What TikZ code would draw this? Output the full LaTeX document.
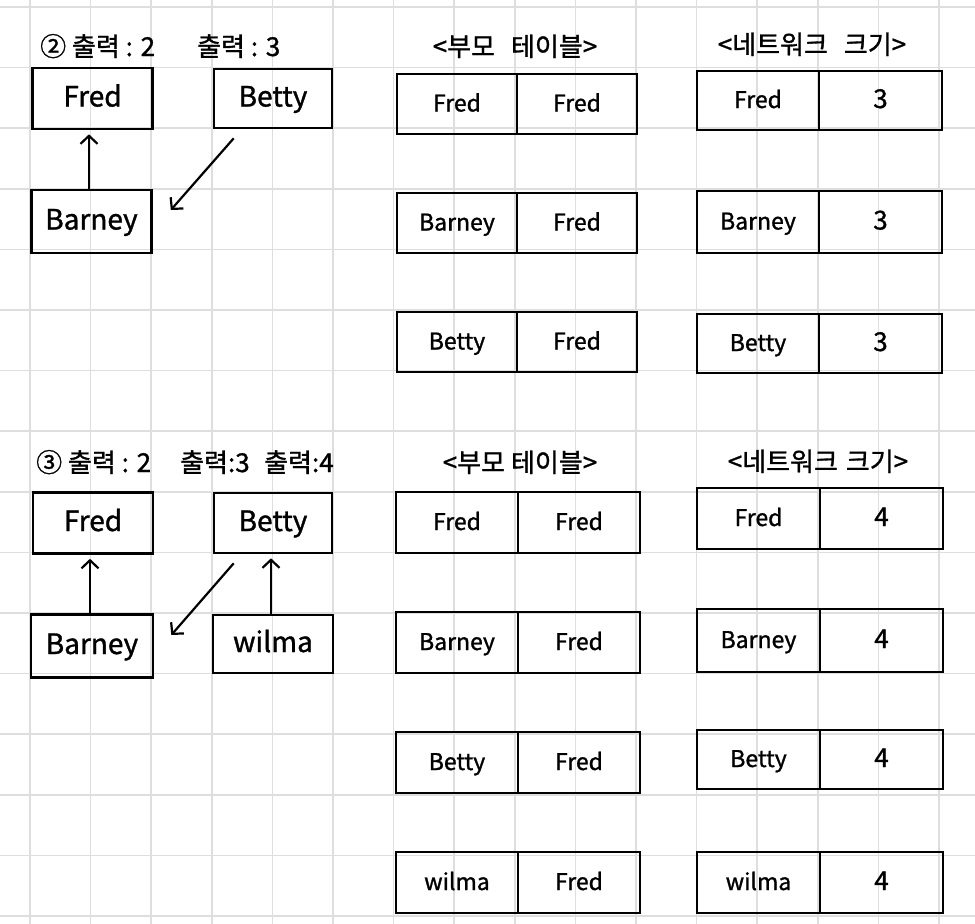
\documentclass[tikz,border=0pt]{standalone}
\usepackage{fontspec}
\setmainfont{Noto Sans CJK KR}[FakeBold=1.2]
\usetikzlibrary{arrows.meta,calc}
\definecolor{gridgray}{HTML}{DEDEDE}
\begin{document}
\begin{tikzpicture}[x=1pt,y=-1pt,
  box/.style={draw, line width=2.6pt, inner sep=0pt, minimum width=120pt, minimum height=61pt, text height=20pt, text depth=4pt, font=\fontsize{28}{30}\selectfont},
  cell/.style={draw, line width=2.6pt, inner sep=0pt, text height=18pt, text depth=3pt, font=\fontsize{23}{25}\selectfont},
  num/.style={font=\fontsize{26}{28}\selectfont},
  arr/.style={line width=2.2pt, -{Straight Barb[length=8pt,width=17pt,line width=2.2pt]}},
  ttl/.style={inner sep=0pt, text height=8pt, text depth=2pt, font=\fontsize{26}{28}\selectfont},
  gridline/.style={line width=1.6pt, draw=gridgray}]

\useasboundingbox (0,0) rectangle (975,924);
\fill[white] (0,0) rectangle (975,924);
\foreach \k in {0,...,15} {
  \draw[gridline] ({30+60.6*\k},0) -- ({30+60.6*\k},924);
  \draw[gridline] (0,{7+60.6*\k}) -- (975,{7+60.6*\k});
}

% ---------- section 2 ----------
\node[ttl, anchor=west] (t2a) at (40,53) {② 출력 : 2};
\node[ttl, anchor=west] (t2b) at (197,53) {출력 : 3};

\node[box] (s2fred)   at (92.5,98.5) {Fred};
\node[box, minimum width=118pt, minimum height=59pt] (s2betty) at (273,98.5) {Betty};
\node[box, minimum height=63pt] (s2barney) at (91.5,221.5) {Barney};

\draw[arr, shorten >=4pt] ([xshift=-2.5pt]s2barney.north) -- ([xshift=-3.5pt]s2fred.south);
\draw[arr] ($(s2betty.south west)+(21,9)$) -- ($(s2barney.east)+(18,-11.5)$);

\node[ttl] (pt2) at (515,53) {<부모\hspace{16pt}테이블>};
\node[ttl] (nt2) at (812,51) {<네트워크\hspace{16pt}크기>};

% parent table 2
\node[cell, minimum width=120pt, minimum height=60pt] (p2r1a) at (457,104) {Fred};
\node[cell, minimum width=120pt, minimum height=60pt] (p2r1b) at (577,104) {Fred};
\node[cell, minimum width=120pt, minimum height=60pt] (p2r2a) at (457,223) {Barney};
\node[cell, minimum width=120pt, minimum height=60pt] (p2r2b) at (577,223) {Fred};
\node[cell, minimum width=120pt, minimum height=60pt] (p2r3a) at (457,342) {Betty};
\node[cell, minimum width=120pt, minimum height=60pt] (p2r3b) at (577,342) {Fred};

% network table 2
\node[cell, minimum width=122pt, minimum height=59pt] (n2r1a) at (758,100.5) {Fred};
\node[cell, num, minimum width=123pt, minimum height=59pt] (n2r1b) at (880.5,100.5) {3};
\node[cell, minimum width=122pt, minimum height=62pt] (n2r2a) at (758,222) {Barney};
\node[cell, num, minimum width=123pt, minimum height=62pt] (n2r2b) at (880.5,222) {3};
\node[cell, minimum width=122pt, minimum height=59pt] (n2r3a) at (758,343.5) {Betty};
\node[cell, num, minimum width=123pt, minimum height=59pt] (n2r3b) at (880.5,343.5) {3};

% ---------- section 3 ----------
\node[ttl, anchor=west] (t3a) at (36,469) {③ 출력 : 2};
\node[ttl, anchor=west] (t3b) at (180,469) {출력:3};
\node[ttl, anchor=west] (t3c) at (264,469) {출력:4};

\node[box, minimum height=61pt] (s3fred)   at (93,523) {Fred};
\node[box, minimum width=118pt, minimum height=60pt] (s3betty)  at (273,523) {Betty};
\node[box, minimum width=122pt, minimum height=63pt] (s3barney) at (92,646) {Barney};
\node[box, minimum width=120pt, minimum height=58pt] (s3wilma)  at (273,644) {wilma};

\draw[arr, shorten >=4pt] ([xshift=-2pt]s3barney.north) -- ([xshift=-3pt]s3fred.south);
\draw[arr] ($(s3betty.south west)+(21,9)$) -- ($(s3barney.east)+(17,-11)$);
\draw[arr, shorten >=4pt] ([xshift=-2pt]s3wilma.north) -- ([xshift=-2pt]s3betty.south);

\node[ttl] (pt3) at (520,469) {<부모\hspace{6pt}테이블>};
\node[ttl] (nt3) at (818,468) {<네트워크\hspace{8pt}크기>};

% parent table 3
\node[cell, minimum width=122pt, minimum height=61pt] (p3r1a) at (457,522.5) {Fred};
\node[cell, minimum width=122pt, minimum height=61pt] (p3r1b) at (579,522.5) {Fred};
\node[cell, minimum width=122pt, minimum height=61pt] (p3r2a) at (457,642.5) {Barney};
\node[cell, minimum width=122pt, minimum height=61pt] (p3r2b) at (579,642.5) {Fred};
\node[cell, minimum width=122pt, minimum height=61pt] (p3r3a) at (457,762.5) {Betty};
\node[cell, minimum width=122pt, minimum height=61pt] (p3r3b) at (579,762.5) {Fred};
\node[cell, minimum width=122pt, minimum height=61pt] (p3r4a) at (457,882.5) {wilma};
\node[cell, minimum width=122pt, minimum height=61pt] (p3r4b) at (579,882.5) {Fred};

% network table 3
\node[cell, minimum width=123pt, minimum height=61pt] (n3r1a) at (758.5,518.5) {Fred};
\node[cell, num, minimum width=123pt, minimum height=61pt] (n3r1b) at (881.5,518.5) {4};
\node[cell, minimum width=123pt, minimum height=63pt] (n3r2a) at (758.5,640.5) {Barney};
\node[cell, num, minimum width=123pt, minimum height=63pt] (n3r2b) at (881.5,640.5) {4};
\node[cell, minimum width=123pt, minimum height=59pt] (n3r3a) at (758.5,759.5) {Betty};
\node[cell, num, minimum width=123pt, minimum height=59pt] (n3r3b) at (881.5,759.5) {4};
\node[cell, minimum width=123pt, minimum height=61pt] (n3r4a) at (758.5,882.5) {wilma};
\node[cell, num, minimum width=123pt, minimum height=61pt] (n3r4b) at (881.5,882.5) {4};

\end{tikzpicture}
\end{document}
